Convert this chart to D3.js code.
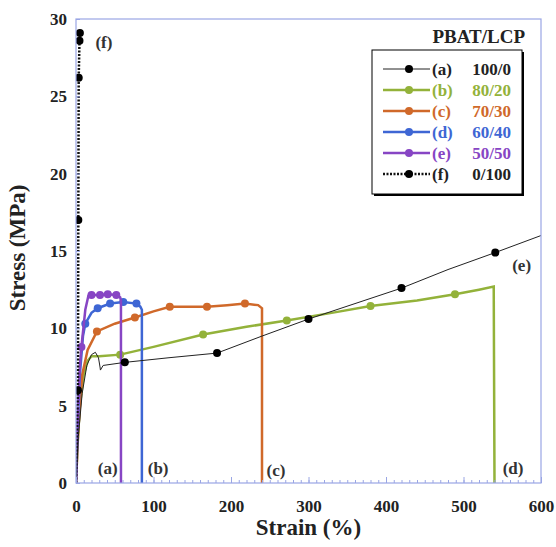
<!DOCTYPE html>
<html>
<head>
<meta charset="utf-8">
<script src="https://cdn.jsdelivr.net/npm/d3@7"></script>
<style>
  body { margin: 0; background: #fff; }
  text { font-family: "Liberation Serif", "Times New Roman", serif; font-weight: bold; }
</style>
</head>
<body>
<div id="chart"></div>
<script>
// chart size
var w = 556;
var h = 547;
var padLeft = 76, padTop = 19, pw = 465, ph = 464;

// data: strain (%) and stress (MPa)
var strainA = [0, 3, 8, 14, 20, 25, 29, 31, 31.5, 35, 63, 120, 182, 240, 300, 360, 420, 480, 541, 600];
var stressA = [0, 3.0, 5.8, 7.6, 8.3, 8.45, 8.1, 7.5, 7.3, 7.6, 7.8, 8.1, 8.4, 9.5, 10.6, 11.6, 12.6, 13.8, 14.9, 16.0];
var markA = [63, 182, 300, 420, 541];

var strainB = [0, 2, 5, 10, 15, 20, 30, 57, 100, 164, 220, 272, 330, 380, 440, 489, 520, 539, 540];
var stressB = [0, 2.5, 5.0, 7.0, 7.9, 8.2, 8.2, 8.3, 8.8, 9.6, 10.1, 10.5, 11.0, 11.45, 11.8, 12.2, 12.5, 12.7, 0];
var markB = [57, 164, 272, 380, 489];

var strainC = [0, 3, 8, 15, 27, 50, 76, 100, 121, 145, 169, 195, 218, 235, 240, 240];
var stressC = [0, 3.5, 7.0, 8.6, 9.8, 10.3, 10.7, 11.1, 11.4, 11.4, 11.4, 11.5, 11.6, 11.5, 11.3, 0];
var markC = [27, 76, 121, 169, 218];

var strainD = [0, 2, 5, 9, 12, 20, 28, 44, 61, 78, 83, 85, 85];
var stressD = [0, 3, 7, 9.5, 10.3, 11.0, 11.3, 11.6, 11.7, 11.6, 11.4, 11.2, 0];
var markD = [12, 28, 44, 61, 78];

var strainE = [0, 2, 5, 7, 12, 16, 20, 31, 41, 52, 57, 58, 58];
var stressE = [0, 4, 7.6, 8.8, 11.2, 12.1, 12.15, 12.15, 12.2, 12.15, 12.0, 11.8, 0];
var markE = [7, 20, 31, 41, 52];

var strainF = [0, 2.5, 3, 3.5, 4.5, 5];
var stressF = [0, 6.0, 17, 26.2, 28.6, 29.1];
var markF = [2.5, 3, 3.5, 4.5, 5];

var seriesNames = ["(a)", "(b)", "(c)", "(d)", "(e)", "(f)"];
var ratios = ["100/0", "80/20", "70/30", "60/40", "50/50", "0/100"];
var xTicks = [0, 100, 200, 300, 400, 500, 600];
var yTicks = [0, 5, 10, 15, 20, 25, 30];

var colors = ["#222", "#93b23a", "#d0692a", "#3e66d4", "#8745c4", "#111"];
var widths = [1, 2.5, 2.5, 2.5, 2.5, 2.5];

var series = [
    [strainA, stressA, markA],
    [strainB, stressB, markB],
    [strainC, stressC, markC],
    [strainD, stressD, markD],
    [strainE, stressE, markE],
    [strainF, stressF, markF]
];

var axisColor = "#9aa6e4";

var svg = d3.select("#chart")
    .append("svg")
    .attr("width", w)
    .attr("height", h);

var xScale = d3.scaleLinear().domain([0, 600]).range([padLeft, padLeft + pw]);
var yScale = d3.scaleLinear().domain([0, 30]).range([padTop + ph, padTop]);

// clip to plot area
svg.append("clipPath").attr("id", "clip")
    .append("rect")
    .attr("x", padLeft).attr("y", padTop - 2)
    .attr("width", pw).attr("height", ph + 2);

var line = d3.line()
    .x(function (d) { return xScale(d[0]); })
    .y(function (d) { return yScale(d[1]); });

var plot = svg.append("g").attr("clip-path", "url(#clip)");

// b..e first, then a and f on top
var order = [1, 2, 3, 4, 0, 5];
order.forEach(function (i) {
    var s = series[i];
    var pts = s[0].map(function (x, j) { return [x, s[1][j]]; });
    plot.append("path")
        .datum(pts)
        .attr("fill", "none")
        .attr("stroke", colors[i])
        .attr("stroke-width", widths[i])
        .attr("stroke-dasharray", i === 5 ? "2,1.5" : null)
        .attr("d", line);

    var marks = s[2].map(function (m) {
        var j = s[0].indexOf(m);
        return [m, s[1][j]];
    });
    plot.selectAll(null)
        .data(marks)
        .enter()
        .append("circle")
        .attr("cx", function (d) { return xScale(d[0]); })
        .attr("cy", function (d) { return yScale(d[1]); })
        .attr("r", 4)
        .attr("fill", i === 0 || i === 5 ? "#000" : colors[i]);
});

// axes
var xMinor = d3.range(0, 601, 10);
svg.append("g")
    .attr("transform", "translate(0," + (padTop + ph) + ")")
    .call(d3.axisBottom(xScale).tickValues(xMinor).tickSize(-3).tickFormat(""))
    .call(function (g) {
        g.select(".domain").remove();
        g.selectAll("line").attr("stroke", axisColor);
    });
svg.append("g")
    .attr("transform", "translate(0," + (padTop + ph) + ")")
    .call(d3.axisBottom(xScale).tickValues(xTicks).tickSize(-6).tickPadding(17).tickFormat(d3.format("d")))
    .call(function (g) {
        g.select(".domain").remove();
        g.selectAll("line").attr("stroke", axisColor);
        g.selectAll("text").attr("fill", "#222").attr("font-size", 17)
            .attr("font-family", "Liberation Serif").attr("font-weight", "bold");
    });

svg.append("g")
    .attr("transform", "translate(" + padLeft + ",0)")
    .call(d3.axisLeft(yScale).tickValues(yTicks).tickSize(-4).tickPadding(9).tickFormat(d3.format("d")))
    .call(function (g) {
        g.select(".domain").remove();
        g.selectAll("line").attr("stroke", axisColor);
        g.selectAll("text").attr("fill", "#222").attr("font-size", 17)
            .attr("font-family", "Liberation Serif").attr("font-weight", "bold");
    });

// frame
svg.append("rect")
    .attr("x", padLeft).attr("y", padTop)
    .attr("width", pw).attr("height", ph)
    .attr("fill", "none")
    .attr("stroke", axisColor)
    .attr("stroke-width", 1.2);

// axis titles
svg.append("text")
    .attr("x", xScale(300))
    .attr("y", 535)
    .attr("text-anchor", "middle")
    .attr("font-size", 23)
    .attr("fill", "#222")
    .text("Strain (%)");

svg.append("text")
    .attr("transform", "translate(25," + yScale(15.2) + ") rotate(-90)")
    .attr("text-anchor", "middle")
    .attr("font-size", 23)
    .attr("fill", "#222")
    .text("Stress (MPa)");

// curve labels
var labelPos = [[41, 0.55], [106, 0.55], [258, 0.45], [564, 0.55], [575, 13.7], [36, 28.1]];
var labelText = ["(a)", "(b)", "(c)", "(d)", "(e)", "(f)"];
svg.selectAll(".clabel")
    .data(labelPos)
    .enter()
    .append("text")
    .attr("class", "clabel")
    .attr("x", function (d) { return xScale(d[0]); })
    .attr("y", function (d) { return yScale(d[1]); })
    .attr("text-anchor", "middle")
    .attr("font-size", 17)
    .attr("fill", "#333")
    .text(function (d, i) { return labelText[i]; });

// legend
svg.append("text")
    .attr("x", 525)
    .attr("y", 43)
    .attr("text-anchor", "end")
    .attr("font-size", 19)
    .attr("fill", "#222")
    .text("PBAT/LCP");

var lx = 372, ly = 50, lw = 150, lh = 144;
svg.append("rect")
    .attr("x", lx + 2).attr("y", ly + 2)
    .attr("width", lw).attr("height", lh)
    .attr("fill", "#000");
svg.append("rect")
    .attr("x", lx).attr("y", ly)
    .attr("width", lw).attr("height", lh)
    .attr("fill", "#fff")
    .attr("stroke", "#000")
    .attr("stroke-width", 1);

var legend = svg.selectAll(".leg")
    .data(seriesNames)
    .enter()
    .append("g")
    .attr("class", "leg")
    .attr("transform", function (d, i) { return "translate(0," + (69 + i * 21) + ")"; });

legend.append("line")
    .attr("x1", 383).attr("x2", 430)
    .attr("stroke", function (d, i) { return colors[i]; })
    .attr("stroke-width", function (d, i) { return i === 0 ? 1 : 2.5; })
    .attr("stroke-dasharray", function (d, i) { return i === 5 ? "2,1.5" : null; });

legend.append("circle")
    .attr("cx", 409)
    .attr("r", 4)
    .attr("fill", function (d, i) { return i === 0 || i === 5 ? "#000" : colors[i]; });

legend.append("text")
    .attr("x", 432)
    .attr("y", 6)
    .attr("font-size", 17)
    .attr("fill", function (d, i) { return i === 0 || i === 5 ? "#222" : colors[i]; })
    .text(function (d) { return d; });

legend.append("text")
    .attr("x", 511)
    .attr("y", 6)
    .attr("text-anchor", "end")
    .attr("font-size", 17)
    .attr("fill", function (d, i) { return i === 0 || i === 5 ? "#222" : colors[i]; })
    .text(function (d, i) { return ratios[i]; });
</script>
</body>
</html>
